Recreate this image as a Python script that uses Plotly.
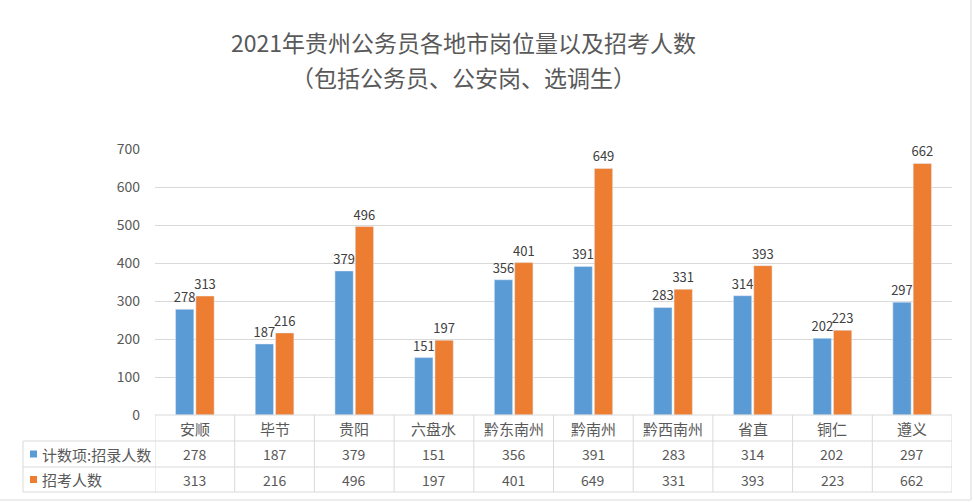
import plotly.graph_objects as go

categories = ["安顺", "毕节", "贵阳", "六盘水", "黔东南州", "黔南州", "黔西南州", "省直", "铜仁", "遵义"]
series1_name = "计数项:招录人数"
series2_name = "招考人数"
series1 = [278, 187, 379, 151, 356, 391, 283, 314, 202, 297]
series2 = [313, 216, 496, 197, 401, 649, 331, 393, 223, 662]
y_ticks = [0, 100, 200, 300, 400, 500, 600, 700]
title_line1 = "2021年贵州公务员各地市岗位量以及招考人数"
title_line2 = "（包括公务员、公安岗、选调生）"

BLUE = "#5B9BD5"
ORANGE = "#ED7D31"
TXT = "#595959"
LINE = "#D9D9D9"
FONT = "Noto Sans CJK SC, DejaVu Sans, sans-serif"

W, H = 973, 502
L, R, T, B = 155, 21, 149, 87
PW = W - L - R
PH = H - T - B

def py(pix):
    return (H - B - pix) / PH

def px(pix):
    return (pix - L) / PW

fig = go.Figure()
for vals, name, col in [(series1, series1_name, BLUE), (series2, series2_name, ORANGE)]:
    fig.add_trace(go.Bar(x=list(range(len(categories))), y=vals, name=name,
                         marker_color=col, text=vals, textposition="outside", constraintext="none",
                         textfont=dict(size=13, color="#404040", family=FONT), cliponaxis=False))

shapes = []
n = len(categories)
shapes.append(dict(type="line", xref="paper", yref="paper", x0=0, x1=1, y0=py(415), y1=py(415),
                   line=dict(color=LINE, width=1)))
for yy in [441, 467, 492]:
    shapes.append(dict(type="line", xref="paper", yref="paper", x0=px(23), x1=1, y0=py(yy), y1=py(yy),
                       line=dict(color=LINE, width=1)))
for i in range(n + 1):
    shapes.append(dict(type="line", xref="x", yref="paper", x0=i - 0.5, x1=i - 0.5,
                       y0=py(415), y1=py(492), line=dict(color=LINE, width=1)))
shapes.append(dict(type="line", xref="paper", yref="paper", x0=px(23), x1=px(23),
                   y0=py(441), y1=py(492), line=dict(color=LINE, width=1)))
shapes.append(dict(type="line", xref="paper", yref="paper", x0=px(0), x1=px(971), y0=py(500), y1=py(500),
                   line=dict(color=LINE, width=1)))
shapes.append(dict(type="line", xref="paper", yref="paper", x0=px(971), x1=px(971), y0=py(0), y1=py(500),
                   line=dict(color=LINE, width=1)))
for yy, col in [(454, BLUE), (479.5, ORANGE)]:
    shapes.append(dict(type="rect", xref="paper", yref="paper", x0=px(30), x1=px(37),
                       y0=py(yy + 3.5), y1=py(yy - 3.5), fillcolor=col, line=dict(width=0)))

ann = []
for i, c in enumerate(categories):
    ann.append(dict(x=i, y=py(428), xref="x", yref="paper", text=c, showarrow=False,
                    yanchor="middle", font=dict(size=15, color=TXT, family=FONT)))
    ann.append(dict(x=i, y=py(454), xref="x", yref="paper", text=str(series1[i]), showarrow=False,
                    yanchor="middle", font=dict(size=14, color=TXT, family=FONT)))
    ann.append(dict(x=i, y=py(479.5), xref="x", yref="paper", text=str(series2[i]), showarrow=False,
                    yanchor="middle", font=dict(size=14, color=TXT, family=FONT)))
for yy, name in [(454, series1_name), (479.5, series2_name)]:
    ann.append(dict(x=px(40), y=py(yy), xref="paper", yref="paper", text=name, showarrow=False,
                    xanchor="left", yanchor="middle", font=dict(size=15, color=TXT, family=FONT)))
for yy, t in [(42, title_line1), (77, title_line2)]:
    ann.append(dict(x=px(463), y=py(yy), xref="paper", yref="paper", text=t, showarrow=False,
                    xanchor="center", yanchor="middle", font=dict(size=23, color=TXT, family=FONT)))

fig.update_layout(
    width=W, height=H,
    margin=dict(l=L, r=R, t=T, b=B),
    paper_bgcolor="white", plot_bgcolor="white",
    barmode="group", bargap=0.49, bargroupgap=0.1,
    showlegend=False,
    xaxis=dict(range=[-0.5, n - 0.5], showticklabels=False, ticks="", showgrid=False,
               zeroline=False, showline=False),
    yaxis=dict(range=[0, 700], tickvals=y_ticks, showgrid=True, gridcolor=LINE, gridwidth=1,
               zeroline=False, showline=False, ticks="", ticklabelstandoff=14,
               tickfont=dict(size=14, color=TXT, family=FONT)),
    shapes=shapes, annotations=ann,
    font=dict(family=FONT),
)

fig.write_html("out.html")
